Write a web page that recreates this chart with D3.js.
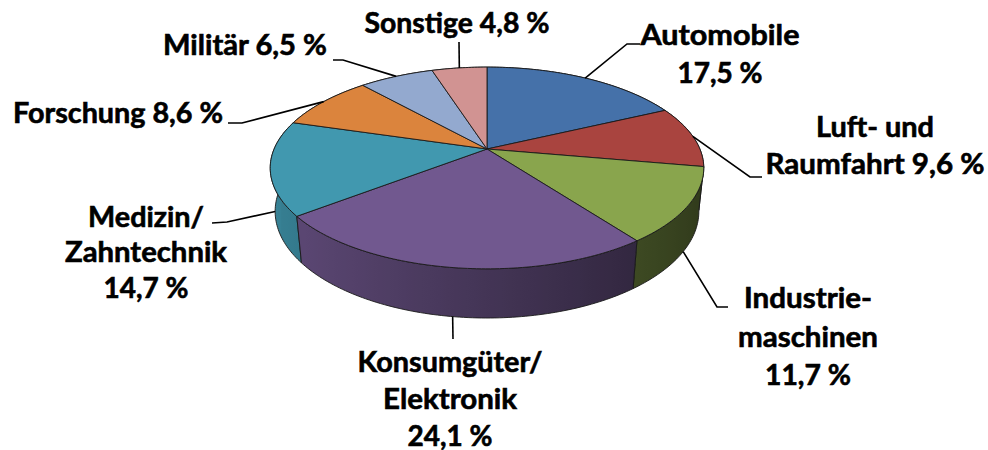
<!DOCTYPE html>
<html><head><meta charset="utf-8">
<script src="https://cdn.jsdelivr.net/npm/d3@7"></script>
<style>html,body{margin:0;padding:0;background:#fff}svg{display:block}</style>
</head><body>
<script>
// ---- data ----
const categories = ["Automobile","Luft- und Raumfahrt","Industriemaschinen","Konsumgüter/Elektronik","Medizin/Zahntechnik","Forschung","Militär","Sonstige"];
const values = [17.5, 9.6, 11.7, 24.1, 14.7, 8.6, 6.5, 4.8];
const colors = ["#4571A9","#A9443F","#89A54D","#71588F","#4198AF","#DB843D","#93A9CF","#D19392"];
// label text lines; {v} is replaced by the formatted value
const labelLines = [
  ["Automobile","{v} %"],
  ["Luft- und","Raumfahrt {v} %"],
  ["Industrie-","maschinen","{v} %"],
  ["Konsumgüter/","Elektronik","{v} %"],
  ["Medizin/","Zahntechnik","{v} %"],
  ["Forschung {v} %"],
  ["Militär {v} %"],
  ["Sonstige {v} %"]
];

// ---- layout ----
const W = 988, H = 450;
const cx = 487, cy = 149, f = 1007, Dist = 4.73, sa = 0.457, ca = 0.889, thick = 0.231;
const labelLayout = [
  {anchor:"middle", x:720, ys:[45,83], ws:[159,85], elbow:[627,44], end:[640,44]},
  {anchor:"middle", x:875, ys:[137,174], ws:[118,219], elbow:[750,177], end:[762,177]},
  {anchor:"middle", x:808, ys:[308,347,385], ws:[128,140,86], elbow:[717,307], end:[728,307]},
  {anchor:"middle", x:450, ys:[372,409,446], ws:[185,134,85], elbow:null, end:[453,339]},
  {anchor:"middle", x:146, ys:[227,262,298], ws:[116,162,85], elbow:[227,222], end:[212,223]},
  {anchor:"end", x:223, ys:[123], ws:[210], elbow:[242,123], end:[228,123]},
  {anchor:"end", x:327, ys:[55], ws:[164], elbow:[343,60], end:[333,60]},
  {anchor:"middle", x:457, ys:[33], ws:[185], elbow:null, end:[459,42]}
];

const svg = d3.select("body").append("svg").attr("width", W).attr("height", H);
svg.append("rect").attr("width", W).attr("height", H).attr("fill", "#fff");
const defs = svg.append("defs");

// perspective projection of a point on the unit disk at angle theta, height Y
function proj(theta, Y, r = 1) {
  const X = r * Math.sin(theta), Z = -r * Math.cos(theta);
  const d = Dist - (Y * sa + Z * ca);
  const v = Y * ca - Z * sa;
  return [cx + f * X / d, cy - f * v / d];
}

const pie = d3.pie().sort(null).startAngle(0).endAngle(2 * Math.PI);
const arcs = pie(values);
const line = d3.line();

function arcPts(a0, a1, Y) {
  const n = Math.max(2, Math.ceil((a1 - a0) / (Math.PI / 180)));
  return d3.range(n + 1).map(i => proj(a0 + (a1 - a0) * i / n, Y));
}

function shade(col, theta) {
  const k = Math.max(0.3, Math.min(0.95, 0.6 - 0.26 * Math.sin(theta)));
  const c = d3.rgb(col);
  return d3.rgb(c.r * k, c.g * k, c.b * k).formatHex();
}

// ---- walls (one path per slice, horizontal gradient for shading) ----
const gWall = svg.append("g");
const wallOrder = arcs.map((a, i) => i)
  .sort((p, q) => (-Math.cos((arcs[p].startAngle + arcs[p].endAngle) / 2)) - (-Math.cos((arcs[q].startAngle + arcs[q].endAngle) / 2)));
wallOrder.forEach(i => {
  const a = arcs[i];
  const n = Math.max(2, Math.ceil((a.endAngle - a.startAngle) / (Math.PI / 90)));
  const samples = d3.range(n + 1).map(k => a.startAngle + (a.endAngle - a.startAngle) * k / n)
    .filter(t => -Math.cos(t) > -0.15);
  let fill = shade(colors[i], (a.startAngle + a.endAngle) / 2);
  if (samples.length >= 2) {
    const xs = samples.map(t => proj(t, 0)[0]);
    const x0 = d3.min(xs), x1 = d3.max(xs);
    if (x1 - x0 > 1) {
      const id = "wg" + i;
      const grad = defs.append("linearGradient").attr("id", id)
        .attr("gradientUnits", "userSpaceOnUse")
        .attr("x1", x0).attr("y1", 0).attr("x2", x1).attr("y2", 0);
      const stops = samples.map((t, k) => ({o: (xs[k] - x0) / (x1 - x0), c: shade(colors[i], t)}))
        .sort((p, q) => p.o - q.o);
      grad.selectAll("stop").data(stops).join("stop")
        .attr("offset", s => s.o).attr("stop-color", s => s.c);
      fill = "url(#" + id + ")";
    }
  }
  const top = arcPts(a.startAngle, a.endAngle, 0);
  const bot = arcPts(a.startAngle, a.endAngle, -thick).reverse();
  gWall.append("path").attr("d", line(top.concat(bot)) + "Z")
    .attr("fill", fill)
    .attr("stroke", "#1a1a1a").attr("stroke-width", 0.9).attr("stroke-linejoin", "round");
});

// ---- top faces ----
const gTop = svg.append("g");
gTop.selectAll("path").data(arcs).join("path")
  .attr("d", a => line([[cx, cy]].concat(arcPts(a.startAngle, a.endAngle, 0))) + "Z")
  .attr("fill", (a, i) => colors[i])
  .attr("stroke", "#1a1a1a").attr("stroke-width", 0.9).attr("stroke-linejoin", "round");

// ---- leaders & labels ----
const fmt = v => d3.format(".1f")(v).replace(".", ",");
const gLab = svg.append("g");
arcs.forEach((a, i) => {
  const mid = (a.startAngle + a.endAngle) / 2;
  const front = -Math.cos(mid) > 0;
  const start = proj(mid, front ? -thick : 0);
  const L = labelLayout[i];
  const pts = [start];
  if (L.elbow) pts.push(L.elbow);
  pts.push(L.end);
  gLab.append("path").attr("d", line(pts)).attr("fill", "none")
    .attr("stroke", "#000").attr("stroke-width", 1.6);
  labelLines[i].forEach((t, k) => {
    gLab.append("text")
      .attr("x", L.x).attr("y", L.ys[k])
      .attr("text-anchor", L.anchor)
      .attr("textLength", L.ws[k]).attr("lengthAdjust", "spacingAndGlyphs")
      .attr("font-family", "Lato, 'Open Sans', sans-serif")
      .attr("font-weight", "bold").attr("font-size", 28)
      .attr("fill", "#000").attr("stroke", "#000").attr("stroke-width", 0.6)
      .text(t.replace("{v}", fmt(values[i])));
  });
});
</script>
</body></html>
